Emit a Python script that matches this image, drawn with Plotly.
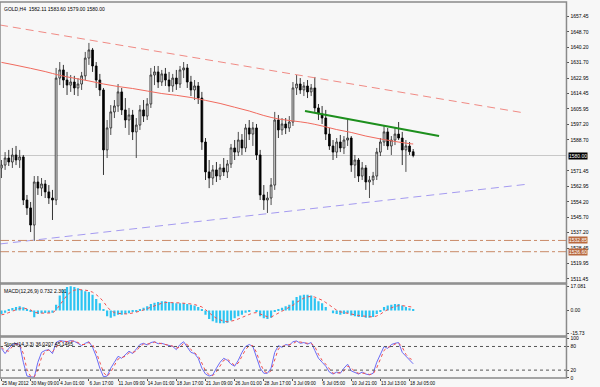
import plotly.graph_objects as go

# ---------------- data ----------------
bars = list(range(114))
time_tick_bars = [0, 8, 16, 24, 32, 40, 48, 56, 64, 72, 80, 88, 96, 104, 112]
time_labels = ["25 May 2012", "30 May 09:00", "4 Jun 01:00", "6 Jun 17:00", "11 Jun 09:00",
               "14 Jun 01:00", "18 Jun 17:00", "21 Jun 09:00", "26 Jun 01:00", "28 Jun 17:00",
               "3 Jul 09:00", "6 Jul 05:00", "10 Jul 21:00", "13 Jul 13:00", "18 Jul 05:00"]

open_ = [1573.1,1574.7,1578.6,1576.4,1580.3,1577.5,1579.2,1555.3,1550.9,1541.4,
1565.3,1561.9,1564.2,1559.8,1556.4,1555.3,1623.0,1627.5,1621.9,1619.1,
1620.8,1617.5,1619.7,1624.2,1634.1,1638.6,1629.7,1621.9,1616.4,1583.1,
1595.3,1604.2,1607.5,1615.3,1605.3,1599.7,1602.5,1593.1,1596.9,1605.3,
1601.9,1608.6,1624.7,1626.4,1620.8,1625.3,1621.9,1618.6,1623.0,1619.7,
1627.5,1628.6,1620.8,1616.4,1618.6,1611.9,1587.5,1570.9,1567.5,1572.0,
1568.6,1573.1,1570.9,1575.3,1584.2,1581.9,1588.6,1584.2,1595.3,1591.9,
1595.3,1580.3,1558.1,1555.3,1556.4,1563.6,1599.7,1594.2,1597.5,1595.3,
1598.6,1617.5,1619.7,1616.4,1618.6,1615.3,1617.5,1606.4,1603.1,1600.8,
1591.9,1585.3,1581.9,1587.5,1584.2,1588.6,1589.7,1574.7,1577.5,1568.6,
1573.1,1565.3,1566.4,1568.6,1581.9,1587.5,1593.1,1585.3,1588.6,1591.9,
1589.7,1583.1,1585.3,1582.11]
high = [1577.5,1581.9,1583.1,1584.2,1585.3,1583.1,1580.3,1558.1,1554.2,1568.6,
1568.6,1567.5,1566.4,1563.6,1560.9,1628.6,1631.9,1630.3,1626.4,1624.7,
1624.2,1623.0,1626.4,1637.5,1642.5,1639.7,1631.9,1625.3,1617.5,1599.7,
1608.0,1610.8,1619.7,1617.5,1611.9,1606.4,1605.3,1600.8,1608.0,1610.8,
1611.9,1628.6,1629.7,1629.7,1627.5,1628.6,1626.4,1625.3,1627.5,1629.7,
1631.9,1630.8,1624.2,1621.9,1620.8,1615.3,1589.7,1577.5,1574.7,1576.4,
1575.3,1578.6,1577.5,1586.4,1588.6,1593.1,1591.9,1597.5,1599.7,1598.6,
1597.5,1583.1,1563.6,1559.8,1567.5,1604.2,1602.5,1600.8,1600.8,1601.9,
1620.8,1624.7,1623.0,1620.8,1621.9,1619.7,1623.6,1608.6,1607.5,1605.3,
1595.3,1588.6,1589.7,1591.4,1590.8,1600.8,1590.8,1580.3,1578.6,1576.4,
1574.7,1568.6,1570.9,1584.2,1589.7,1596.9,1595.3,1590.8,1595.3,1598.6,
1593.1,1588.6,1587.5,1583.60]
low = [1567.5,1572.0,1574.2,1573.1,1574.7,1573.1,1552.5,1547.0,1537.5,1532.6,
1558.1,1557.5,1556.4,1553.1,1544.2,1552.5,1619.1,1617.5,1613.6,1615.3,
1613.6,1613.0,1616.4,1621.9,1630.3,1626.4,1617.5,1613.0,1569.2,1578.6,
1591.4,1600.8,1604.2,1602.5,1595.3,1591.4,1588.6,1578.6,1594.2,1598.6,
1599.7,1606.4,1619.1,1617.5,1618.6,1618.6,1615.3,1615.3,1616.4,1617.5,
1623.0,1617.5,1613.0,1610.8,1608.6,1583.1,1566.4,1561.9,1563.6,1565.3,
1566.4,1568.6,1567.5,1573.1,1577.5,1579.7,1580.3,1581.9,1588.6,1585.3,
1577.5,1555.3,1549.8,1548.1,1552.5,1560.9,1589.7,1591.4,1591.9,1593.1,
1596.4,1613.6,1614.2,1613.0,1611.9,1613.0,1604.2,1599.7,1597.5,1588.6,
1583.1,1577.5,1578.6,1581.9,1580.8,1585.3,1570.9,1567.5,1565.3,1566.4,
1560.9,1556.4,1563.6,1566.4,1579.7,1585.3,1583.1,1580.3,1585.8,1588.6,
1574.7,1570.9,1580.3,1579.00]
close = [1574.7,1578.6,1576.4,1580.3,1577.5,1579.2,1555.3,1550.9,1541.4,1565.3,
1561.9,1564.2,1559.8,1556.4,1555.3,1623.0,1627.5,1621.9,1619.1,1620.8,
1617.5,1619.7,1624.2,1634.1,1638.6,1629.7,1621.9,1616.4,1583.1,1595.3,
1604.2,1607.5,1615.3,1605.3,1599.7,1602.5,1593.1,1596.9,1605.3,1601.9,
1608.6,1624.7,1626.4,1620.8,1625.3,1621.9,1618.6,1623.0,1619.7,1627.5,
1628.6,1620.8,1616.4,1618.6,1611.9,1587.5,1570.9,1567.5,1572.0,1568.6,
1573.1,1570.9,1575.3,1584.2,1581.9,1588.6,1584.2,1595.3,1591.9,1595.3,
1580.3,1558.1,1555.3,1556.4,1563.6,1599.7,1594.2,1597.5,1595.3,1598.6,
1617.5,1619.7,1616.4,1618.6,1615.3,1617.5,1606.4,1603.1,1600.8,1591.9,
1585.3,1581.9,1587.5,1584.2,1588.6,1589.7,1574.7,1577.5,1568.6,1573.1,
1565.3,1566.4,1568.6,1581.9,1587.5,1593.1,1585.3,1588.6,1591.9,1589.7,
1583.1,1585.3,1582.1,1580.00]

ma_bars = [0,4,8,12,16,20,24,28,32,36,40,44,48,52,56,60,64,68,72,76,80,84,88,92,96,100,104,108,112,113]
ma_vals = [1631.7,1630.1,1628.4,1626.6,1624.5,1622.9,1621.4,1619.7,1618.3,1617.2,1615.8,1614.4,1613.4,1612.2,
           1610.6,1608.9,1606.8,1604.7,1602.2,1600.3,1599.2,1598.1,1596.4,1594.4,1592.8,1590.8,1589.2,1587.8,
           1586.6,1586.4]

# trend lines (bar index, price)
upper_tl_bars = [-0.4, 143.6]; upper_tl_prices = [1652.45, 1603.6]
lower_tl_bars = [-0.4, 143.6]; lower_tl_prices = [1530.9, 1563.9]
green_tl_bars = [83.3, 120.1]; green_tl_prices = [1604.7, 1590.8]
current_price = 1580.00
hline_levels = [1532.85, 1526.60]
hline_labels = ["1532.85", "1526.60"]

price_ticks = [1657.45,1648.70,1640.20,1631.70,1622.95,1614.45,1605.95,1597.20,1588.70,
               1571.45,1562.95,1554.20,1545.70,1537.20,1528.45,1519.95,1511.45]

macd = [-2.5,-1.5,0.5,1.8,2.5,3.0,2.2,0.5,-1.0,-4.8,
-2.5,-2.0,-1.8,-1.5,-1.5,4.0,10.5,14.5,16.5,17.0,
16.5,15.5,14.5,13.5,13.0,11.0,8.0,5.0,1.0,-4.0,
-5.0,-4.0,-3.0,-3.0,-2.5,-2.0,-1.0,-0.5,1.0,2.0,
3.0,4.5,5.5,6.0,6.5,6.5,6.0,5.5,5.0,5.0,
5.0,4.5,4.0,3.5,2.5,0.5,-3.0,-6.0,-7.5,-8.5,
-9.0,-9.0,-8.5,-7.0,-5.5,-4.0,-3.0,-1.5,-0.5,0.0,
-1.0,-4.0,-5.5,-6.0,-5.0,-1.0,1.0,2.0,3.0,4.0,
7.0,9.5,10.5,11.0,11.0,10.5,8.5,6.5,5.0,2.5,
0.0,-2.0,-2.5,-3.0,-2.5,-2.0,-3.5,-4.0,-4.5,-4.5,
-5.0,-5.0,-4.5,-2.5,-0.5,2.5,3.5,4.0,4.5,4.5,
3.5,2.5,1.5,0.732]
macd_signal = [-3.0,-2.5,-1.45,-0.31,0.67,1.49,1.74,1.31,0.5,-1.36,
-1.76,-1.84,-1.83,-1.71,-1.64,0.33,3.89,7.6,10.7,12.9,
14.2,14.7,14.6,14.2,13.8,12.8,11.1,9.0,6.2,2.6,
-0.1,-1.5,-2.0,-2.4,-2.4,-2.3,-1.8,-1.3,-0.5,0.4,
1.3,2.4,3.5,4.4,5.1,5.6,5.7,5.6,5.4,5.3,
5.2,4.9,4.6,4.2,3.6,2.5,0.6,-1.7,-3.7,-5.4,
-6.7,-7.5,-7.9,-7.6,-6.9,-5.9,-4.9,-3.7,-2.6,-1.7,
-1.5,-2.4,-3.5,-4.4,-4.6,-3.3,-1.8,-0.5,0.7,1.9,
3.7,5.7,7.4,8.7,9.5,9.9,9.4,8.4,7.2,5.6,
3.6,1.6,0.2,-0.9,-1.5,-1.7,-2.3,-2.9,-3.5,-3.8,
-4.2,-4.5,-4.5,-3.8,-2.6,-0.8,0.7,1.9,2.8,3.4,
3.4,3.1,2.5,2.301]

stoch_k = [75,62,75,85,88,85,40,5,3,2,
40,65,70,72,62,90,95,93,92,95,
93,88,82,88,92,78,55,25,3,5,
25,40,55,50,60,68,62,75,85,88,
84,90,92,87,88,85,82,80,72,85,
92,78,65,62,50,25,10,5,8,25,
40,50,45,35,30,45,65,80,85,80,
50,25,12,12,25,65,82,78,85,83,
92,94,88,90,86,90,70,50,40,30,
15,10,15,12,25,35,18,15,10,15,
10,8,12,40,60,80,75,85,88,90,
65,55,45,36.0207]
stoch_d = [78,70,68,80,86,86,62,22,4,3,
21,52,68,71,67,76,92,94,92,93,
94,90,85,85,90,85,66,40,14,4,
15,32,48,52,55,64,65,68,80,86,
86,87,91,89,87,86,83,81,76,78,
88,85,72,63,56,38,18,8,6,16,
32,45,48,40,32,38,55,72,82,82,
65,38,18,12,18,45,74,80,82,84,
87,93,91,89,88,88,80,60,45,35,
22,12,12,14,18,30,26,16,12,12,
12,9,10,26,50,70,78,80,86,89,
78,60,50,45.1465]

# ---------------- figure ----------------
FONT = "Liberation Sans"
BG = "#f7f7f7"
fig = go.Figure()

fig.add_trace(go.Candlestick(
    x=bars, open=open_, high=high, low=low, close=close,
    increasing=dict(line=dict(color="#222222", width=0.8), fillcolor="#f0f0f0"),
    decreasing=dict(line=dict(color="#000000", width=0.8), fillcolor="#000000"),
    whiskerwidth=0, xaxis="x", yaxis="y", showlegend=False))

fig.add_trace(go.Scatter(x=ma_bars, y=ma_vals, mode="lines", line=dict(color="#f06a5e", width=1, shape="spline"),
                         xaxis="x", yaxis="y", showlegend=False))
fig.add_trace(go.Scatter(x=upper_tl_bars, y=upper_tl_prices, mode="lines",
                         line=dict(color="#f08a84", width=1, dash="8px,5px"), xaxis="x", yaxis="y", showlegend=False))
fig.add_trace(go.Scatter(x=lower_tl_bars, y=lower_tl_prices, mode="lines",
                         line=dict(color="#a49af0", width=1, dash="8px,5px"), xaxis="x", yaxis="y", showlegend=False))
fig.add_trace(go.Scatter(x=green_tl_bars, y=green_tl_prices, mode="lines",
                         line=dict(color="#1d8f1d", width=2), xaxis="x", yaxis="y", showlegend=False))

# MACD
fig.add_trace(go.Bar(x=bars, y=macd, marker=dict(color="#2cc4f2", line=dict(width=0)),
                     xaxis="x", yaxis="y2", showlegend=False))
fig.add_trace(go.Scatter(x=bars, y=macd_signal, mode="lines", line=dict(color="#f05050", width=1, dash="dot"),
                         xaxis="x", yaxis="y2", showlegend=False))
# Stochastic
fig.add_trace(go.Scatter(x=bars, y=stoch_k, mode="lines", line=dict(color="#6b6bf5", width=1),
                         xaxis="x", yaxis="y3", showlegend=False))
fig.add_trace(go.Scatter(x=bars, y=stoch_d, mode="lines", line=dict(color="#f05050", width=1, dash="dot"),
                         xaxis="x", yaxis="y3", showlegend=False))

shapes = []
shapes.append(dict(type="line", xref="x domain", x0=0, x1=1, yref="y", y0=current_price, y1=current_price,
                   line=dict(color="#c8c8c8", width=1), layer="below"))
for lv in hline_levels:
    shapes.append(dict(type="line", xref="x domain", x0=0, x1=1, yref="y", y0=lv, y1=lv,
                       line=dict(color="#c98a68", width=1, dash="dashdot")))
for lv in [80, 20]:
    shapes.append(dict(type="line", xref="x domain", x0=0, x1=1, yref="y3", y0=lv, y1=lv,
                       line=dict(color="#555555", width=1, dash="dot")))
for yr in ["y domain", "y2 domain", "y3 domain"]:
    shapes.append(dict(type="rect", xref="x domain", x0=0, x1=1, yref=yr, y0=0, y1=1,
                       line=dict(color="#8a8a8a", width=1.5), fillcolor="rgba(0,0,0,0)"))

annotations = []
small = dict(family=FONT, size=5, color="#000000")
annotations.append(dict(text="GOLD,H4  1582.11 1583.60 1579.00 1580.00", xref="x domain", yref="y domain",
                        x=0.004, y=0.993, xanchor="left", yanchor="top", showarrow=False, font=small))
annotations.append(dict(text="MACD(12,26,9) 0.732 2.301", xref="x domain", yref="y2 domain",
                        x=0.004, y=0.96, xanchor="left", yanchor="top", showarrow=False, font=small))
annotations.append(dict(text="Stoch(14,3,3) 36.0207 45.1465", xref="x domain", yref="y3 domain",
                        x=0.004, y=0.96, xanchor="left", yanchor="top", showarrow=False, font=small))
annotations.append(dict(text="1580.00", xref="x domain", yref="y", x=1.002, y=current_price,
                        xanchor="left", yanchor="middle", showarrow=False, bgcolor="#000000",
                        font=dict(family=FONT, size=5, color="#ffffff"), borderpad=0))
for lv, lb in zip(hline_levels, hline_labels):
    annotations.append(dict(text=lb, xref="x domain", yref="y", x=1.002, y=lv,
                            xanchor="left", yanchor="middle", showarrow=False, bgcolor="#b8693e",
                            font=dict(family=FONT, size=5, color="#ffffff"), borderpad=0))

axis_common = dict(showgrid=False, zeroline=False, side="right", ticks="outside", ticklen=2,
                   tickcolor="#555555", tickfont=dict(family=FONT, size=5, color="#000000"), anchor="x",
                   automargin=False)

fig.update_layout(
    width=600, height=387, margin=dict(l=0, r=17, t=2, b=9),
    paper_bgcolor=BG, plot_bgcolor=BG, showlegend=False, bargap=0.4,
    xaxis=dict(domain=[0, 583/600], range=[-0.4, 155.07], anchor="y3", showgrid=False, zeroline=False,
               tickvals=time_tick_bars, ticktext=time_labels, ticks="outside", ticklen=2, tickangle=0,
               ticklabelposition="outside right", tickcolor="#555555", automargin=False,
               tickfont=dict(family=FONT, size=4.6, color="#000000"), rangeslider=dict(visible=False)),
    yaxis=dict(domain=[0.2527, 1], range=[1509.23, 1665.22], tickvals=price_ticks,
               ticktext=[f"{v:.2f}" for v in price_ticks], **axis_common),
    yaxis2=dict(domain=[0.1117, 0.25], range=[-17.83, 18.53], tickvals=[17.081, 0, -15.73],
                ticktext=["17.081", "0.00", "-15.73"], **axis_common),
    yaxis3=dict(domain=[0, 0.109], range=[0, 104], tickvals=[100, 80, 20, 0],
                ticktext=["100", "80", "20", "0"], **axis_common),
    shapes=shapes, annotations=annotations,
)

fig.write_html("out.html")
